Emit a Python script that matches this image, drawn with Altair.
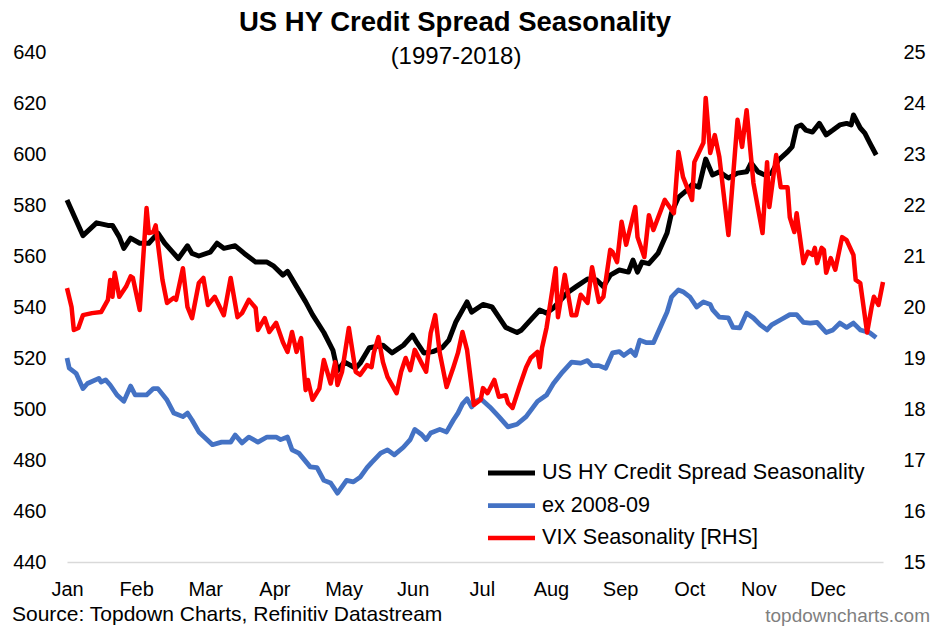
import altair as alt
import pandas as pd

MONTHS = ["Jan", "Feb", "Mar", "Apr", "May", "Jun", "Jul", "Aug", "Sep", "Oct", "Nov", "Dec"]
SERIES = ["US HY Credit Spread Seasonality", "ex 2008-09", "VIX Seasonality [RHS]"]
COLORS = ["#000000", "#4472C4", "#FF0000"]
WIDTHS = [5, 4.5, 2.3]
TITLE = "US HY Credit Spread Seasonality"
SUBTITLE = "(1997-2018)"
SOURCE = "Source: Topdown Charts, Refinitiv Datastream"
SITE = "topdowncharts.com"

hy_day = [0, 7, 13, 18, 20, 23, 25, 28, 32, 36, 40, 43, 46, 49, 53, 55, 58, 63, 66, 69, 74, 78, 83, 88, 91,
          95, 97, 101, 105, 108, 113, 117, 119, 122, 127, 129, 133, 139, 143, 148, 152, 154, 157, 161, 165,
          168, 171, 176, 178, 183, 187, 190, 193, 198, 200, 203, 208, 211, 214, 220, 224, 229, 233, 236, 239,
          243, 247, 249, 251, 253, 256, 260, 264, 266, 269, 273, 275, 278, 281, 284, 287, 291, 295, 299, 301,
          304, 307, 310, 313, 317, 319, 321, 323, 325, 328, 331, 334, 337, 340, 343, 345, 346, 349, 351, 353, 356]
hy_val = [582, 568, 573, 572, 572, 567.5, 563, 567, 565, 565, 569, 565, 562, 559, 564, 561, 560, 561.5, 565, 563,
          564, 561, 557.6, 557.6, 556, 552.5, 554, 548, 542, 537, 530, 523, 515, 518.5, 516, 518, 524, 525, 522, 525,
          529, 526, 522, 522.5, 524, 527, 534, 542, 538, 541, 540, 536, 532, 530, 531, 534, 538.8, 537.6, 539.6, 545.5,
          548, 551, 550.6, 548, 552.5, 554.5, 553.7, 558.4, 553.7, 557.6, 557, 561, 569, 577, 583, 586, 588, 587, 598,
          591.8, 593, 590.6, 592.5, 593, 596.5, 593, 591.8, 592.5, 597.6, 600.8, 602.8, 610.6, 611.4, 609.4, 608.6,
          612, 607.5, 609.4, 611.4, 612, 611.4, 615.3, 610.2, 608.2, 604.7, 599.6]

ex_day = [0, 1, 4, 7, 9, 14, 15, 17, 19, 22, 25, 28, 30, 35, 38, 40, 44, 47, 51, 53, 55, 58, 64, 68, 72, 74, 77,
          80, 84, 88, 92, 94, 97, 99, 102, 107, 110, 113, 116, 119, 123, 126, 129, 132, 134, 138, 141, 144, 148,
          151, 153, 156, 158, 160, 164, 167, 170, 172, 174, 176, 178, 180, 182, 186, 190, 194, 198, 202, 207, 211,
          214, 218, 222, 226, 229, 231, 234, 237, 240, 243, 245, 248, 250, 252, 255, 258, 262, 264, 266, 269, 271,
          274, 277, 280, 283, 284, 287, 291, 293, 296, 299, 302, 305, 308, 310, 314, 318, 321, 324, 327, 330, 334,
          337, 340, 343, 346, 349, 353, 356]
ex_val = [520, 516, 514, 508, 510, 512, 510.6, 511.4, 509.4, 505.5, 503, 509, 505.5, 505.5, 508, 508, 503.5, 498.4,
          497, 498.4, 495.7, 491, 486, 487, 487, 489.8, 486.7, 489, 487, 489, 489, 488, 489, 484, 482.7, 477.3, 477,
          472, 471, 467, 472, 471.4, 473.3, 477, 479, 482.7, 484, 482, 485, 488, 492, 490, 488, 490.6, 492, 491,
          495.7, 498.4, 502, 504, 500.8, 503, 504, 500.8, 497, 493, 494, 497, 503, 505.5, 510, 514.5, 518.4, 518,
          519, 517, 517, 516, 522, 522.5, 521, 523, 521, 527, 526, 526, 534, 538, 544, 546.7, 546, 544, 540, 542,
          541, 539, 536, 535.7, 532, 531.8, 537.6, 535.7, 533, 531, 533, 535, 537, 537, 534, 533.7, 534, 530, 531,
          533.7, 532, 533.7, 531, 530, 528]

vix_day = [0, 2, 3, 5, 7, 11, 15, 18, 19, 20, 21, 23, 26, 28, 29, 32, 35, 36, 38, 39, 42, 44, 47, 48, 51, 53, 55,
           58, 60, 62, 65, 69, 72, 75, 77, 80, 83, 84, 87, 89, 92, 95, 97, 99, 101, 103, 105, 106, 108, 111, 113,
           116, 118, 119, 121, 124, 127, 129, 132, 134, 135, 137, 139, 141, 145, 147, 149, 151, 153, 156, 158, 160,
           162, 164, 167, 170, 172, 174, 176, 179, 182, 183, 185, 188, 190, 193, 194, 196, 199, 202, 204, 207, 208,
           209, 211, 215, 216, 219, 222, 224, 226, 229, 231, 234, 236, 239, 240, 242, 244, 246, 250, 251, 254, 256,
           258, 263, 267, 269, 271, 275, 276, 280, 281, 283, 285, 287, 291, 295, 297, 299, 302, 306, 308, 309, 312,
           314, 317, 318, 320, 321, 324, 326, 328, 329, 330, 332, 333, 334, 336, 338, 341, 343, 346, 347, 349, 352,
           354, 355, 357, 359]
vix_val = [20.37, 20.0, 19.55, 19.59, 19.84, 19.88, 19.9, 20.14, 20.53, 20.2,
           20.67, 20.2, 20.4, 20.6, 20.57, 19.94, 21.94, 21.45, 21.47, 21.6,
           20.53, 20.08, 20.18, 20.14, 20.76, 20.0, 19.78, 20.47, 20.57, 20.04,
           20.2, 19.84, 20.57, 19.8, 19.88, 20.14, 19.98, 19.55, 19.78, 19.51,
           19.69, 19.31, 19.12, 19.51, 19.12, 19.39, 18.37, 18.57, 18.18, 18.4,
           18.96, 18.5, 18.92, 18.47, 18.73, 19.59, 18.73, 18.67, 18.86, 18.82,
           19.1, 19.41, 18.92, 18.63, 18.31, 18.73, 19.0, 18.76, 19.16, 18.9,
           18.73, 19.49, 19.84, 19.1, 18.43, 18.82, 19.1, 19.51, 19.16, 18.08,
           18.18, 18.41, 18.31, 18.57, 18.24, 18.27, 18.12, 18.02, 18.43, 18.82,
           19.0, 19.12, 18.82, 19.2, 19.6, 20.76, 19.8, 20.63, 19.84, 19.84,
           20.24, 20.08, 20.78, 20.1, 20.2, 21.12, 21.08, 20.88, 21.67, 21.22,
           21.96, 21.37, 20.98, 21.8, 21.51, 22.1, 21.84, 23.04, 22.55, 22.1,
           22.84, 23.22, 24.1, 23.02, 23.37, 22.94, 21.41, 23.67, 23.14, 23.86,
           22.43, 21.45, 22.84, 21.96, 22.98, 22.35, 22.35, 21.76, 21.47, 21.84,
           20.86, 21.08, 21.02, 21.16, 20.86, 21.16, 21.12, 20.67, 20.96, 20.73,
           21.37, 21.31, 21.02, 20.53, 20.47, 19.5, 20.0, 20.2, 20.04, 20.49]

LEFT_TICKS = [440, 460, 480, 500, 520, 540, 560, 580, 600, 620, 640]
RIGHT_TICKS = [15, 16, 17, 18, 19, 20, 21, 22, 23, 24, 25]

FONT = "Liberation Sans"

left_df = pd.concat([
    pd.DataFrame({"day": hy_day, "value": hy_val, "series": SERIES[0]}),
    pd.DataFrame({"day": ex_day, "value": ex_val, "series": SERIES[1]}),
])
vix_df = pd.DataFrame({"day": vix_day, "value": vix_val, "series": SERIES[2]})
legend_df = pd.DataFrame({"series": SERIES})

month_len = 365 / 12
tick_vals = [i * month_len for i in range(12)]
label_expr = "[" + ",".join(f"'{m}'" for m in MONTHS) + f"][round(datum.value/{month_len})]"

x_enc = alt.X(
    "day:Q",
    scale=alt.Scale(domain=[0, 359], nice=False, zero=False),
    axis=alt.Axis(values=tick_vals, labelExpr=label_expr, title=None, ticks=False, grid=False,
                  domainColor="#d9d9d9", domainWidth=1.5, labelFontSize=20, labelPadding=17,
                  labelFlush=False, labelOverlap=False, labelColor="#000000", labelFont=FONT),
)

color_enc = alt.Color("series:N", scale=alt.Scale(domain=SERIES, range=COLORS), legend=None)
width_enc = alt.StrokeWidth("series:N", scale=alt.Scale(domain=SERIES, range=WIDTHS), legend=None)

left = alt.Chart(left_df).mark_line(strokeJoin="round").encode(
    x=x_enc,
    y=alt.Y("value:Q", scale=alt.Scale(domain=[440, 640], nice=False, zero=False),
            axis=alt.Axis(values=LEFT_TICKS, title=None, ticks=False, grid=False, domain=False,
                          labelFontSize=20, labelPadding=21, labelColor="#000000", labelFont=FONT)),
    color=color_enc,
    strokeWidth=width_enc,
)

right = alt.Chart(vix_df).mark_line(strokeJoin="round").encode(
    x=x_enc,
    y=alt.Y("value:Q", scale=alt.Scale(domain=[15, 25], nice=False, zero=False),
            axis=alt.Axis(values=RIGHT_TICKS, orient="right", title=None, ticks=False, grid=False,
                          domain=False, labelFontSize=20, labelPadding=20, labelColor="#000000",
                          labelFont=FONT)),
    color=color_enc,
    strokeWidth=width_enc,
)

# legend rows: placed through a point scale over the series names
leg_y = alt.Y("series:N", scale=alt.Scale(type="point", domain=SERIES, range=[421, 486], padding=0),
              axis=None)
legend_lines = alt.Chart(legend_df).mark_rule(strokeCap="butt").encode(
    x=alt.value(421), x2=alt.value(468), y=leg_y, color=color_enc, strokeWidth=width_enc,
)
legend_text = alt.Chart(legend_df).mark_text(
    font=FONT, fontSize=21.6, align="left", baseline="middle", color="#000000",
).encode(x=alt.value(475), y=leg_y, text="series:N")

def text_layer(txt, x, y, size, bold=False, align="center", color="#000000"):
    return alt.Chart(pd.DataFrame({"t": [txt]})).mark_text(
        font=FONT, fontSize=size, fontWeight="bold" if bold else "normal", align=align,
        baseline="middle", color=color,
    ).encode(text="t:N", x=alt.value(x), y=alt.value(y))

texts = [
    text_layer(TITLE, 388, -29, 27.5, bold=True),
    text_layer(SUBTITLE, 389, 5, 24),
    text_layer(SOURCE, -55, 563, 21, align="left"),
    text_layer(SITE, 863, 564, 19, align="right", color="#7f7f7f"),
]

chart = alt.layer(left, right, legend_lines, legend_text, *texts).resolve_scale(y="independent").properties(
    width=816, height=510,
    autosize=alt.AutoSizeParams(type="none"),
    padding={"left": 67, "top": 52, "right": 52, "bottom": 66},
    background="white",
).configure_view(stroke=None)

chart.save("out.html", embed_options={"renderer": "svg", "actions": False})
